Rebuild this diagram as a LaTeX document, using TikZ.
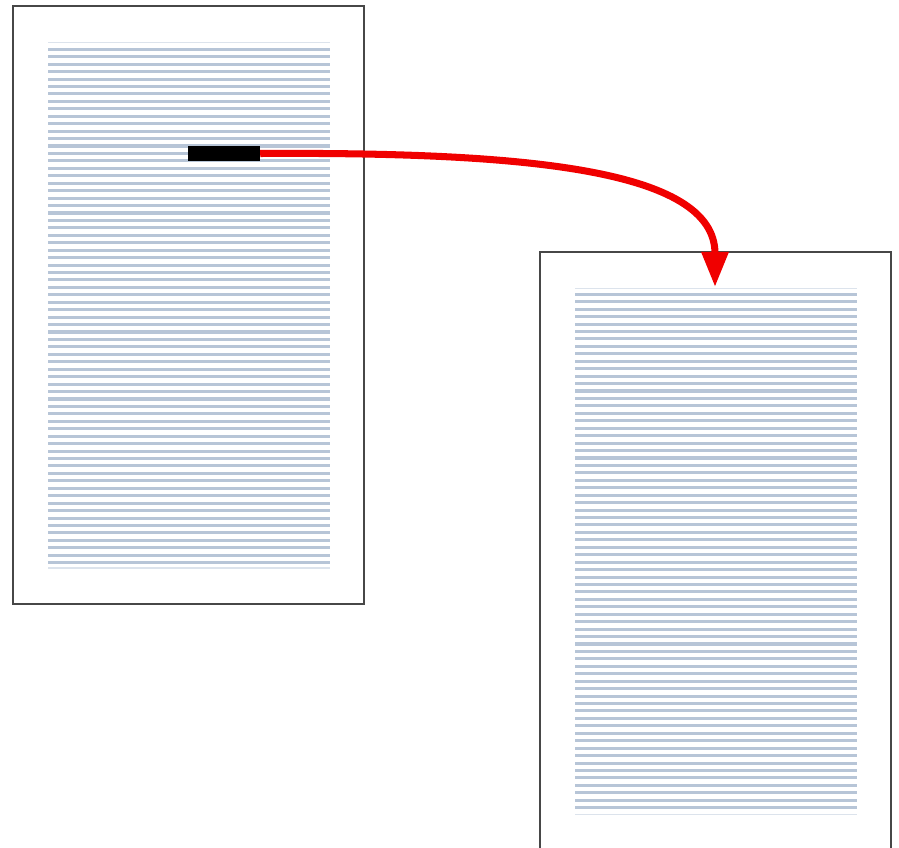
\documentclass[tikz,border=0pt]{standalone}
\usepackage{xcolor}
\usepackage{tikz}
\usetikzlibrary{arrows.meta}
\definecolor{pageborder}{HTML}{474747}
\definecolor{textline}{HTML}{B7C5D7}
\definecolor{faintline}{HTML}{DCE3EC}
\definecolor{linkred}{HTML}{F00000}

\begin{document}
\begin{tikzpicture}[x=0.03cm, y=-0.03cm,
    page/.style={draw=pageborder, line width=1.4pt, fill=white},
    txt/.style={draw=textline, line width=2.6pt},
    faint/.style={draw=faintline, line width=1.2pt},
    marker/.style={fill=black, inner sep=0pt, minimum width=2.16cm, minimum height=0.45cm}]
    \useasboundingbox (0,0) rectangle (899,848);
    \clip (0,0) rectangle (899,848);
    % the two pages
    \node[page, inner sep=0pt, minimum width=10.53cm, minimum height=17.94cm] (srcpage) at (188.5,305) {};
    \node[page, inner sep=0pt, minimum width=10.53cm, minimum height=17.94cm] (dstpage) at (715.5,551) {};
    % text lines
    \draw[faint] (48,42.7) -- (330,42.7);
    \draw[faint] (48,568) -- (330,568);
    \foreach \i in {0,...,69}
      \draw[txt] (48,49.3+7.44*\i) -- (330,49.3+7.44*\i);
    \draw[faint] (575,288.3) -- (857,288.3);
    \draw[faint] (575,814.5) -- (857,814.5);
    \foreach \i in {0,...,69}
      \draw[txt] (575,294.3+7.44*\i) -- (857,294.3+7.44*\i);
    % marked word and where it goes
    \node[marker] (word) at (224,153.5) {};
    \coordinate (target) at (715,287);
    \draw[linkred, line width=6pt, -{Triangle[width=22pt, length=30pt]}]
      (word.east) .. controls (520,152) and (715,168) .. (target);
  \end{tikzpicture}
\end{document}
